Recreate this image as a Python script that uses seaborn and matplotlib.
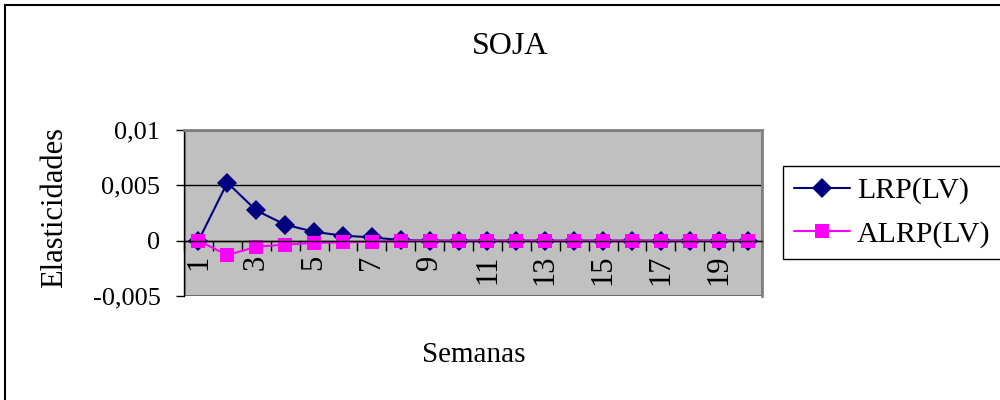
import matplotlib
matplotlib.use("Agg")
import matplotlib.pyplot as plt
import seaborn as sns
import pandas as pd
from matplotlib.patches import Rectangle
from matplotlib.ticker import FixedLocator, NullFormatter

# ---- data ----
semanas = [1, 2, 3, 4, 5, 6, 7, 8, 9, 10, 11, 12, 13, 14, 15, 16, 17, 18, 19, 20]
lrp = [0.0, 0.00524, 0.00273, 0.00145, 0.0008, 0.00045, 0.0003, 0.00005, 0.0, 0.0,
       0.0, 0.0, 0.0, 0.0, 0.0, 0.0, 0.0, 0.0, 0.0, 0.0]
alrp = [0.0, -0.0013, -0.00055, -0.00036, -0.0002, -0.00015, -0.0001, 0.0, 0.0, 0.0,
        0.0, 0.0, 0.0, 0.0, 0.0, 0.0, 0.0, 0.0, 0.0, 0.0]
series_names = ["LRP(LV)", "ALRP(LV)"]
x_tick_labels = ["1", "3", "5", "7", "9", "11", "13", "15", "17", "19"]
y_ticks = [-0.005, 0.0, 0.005, 0.01]
y_tick_labels = ["-0,005", "0", "0,005", "0,01"]
title = "SOJA"
x_label = "Semanas"
y_label = "Elasticidades"

df = pd.DataFrame({
    "Semana": semanas * 2,
    "Valor": lrp + alrp,
    "Serie": [series_names[0]] * len(semanas) + [series_names[1]] * len(semanas),
})

sns.set_style("white")
plt.rcParams["font.family"] = ["Liberation Serif", "DejaVu Serif"]
plt.rcParams["text.color"] = "black"
plt.rcParams["xtick.color"] = "black"
plt.rcParams["ytick.color"] = "black"
plt.rcParams["xtick.labelcolor"] = "black"
plt.rcParams["ytick.labelcolor"] = "black"

fig = plt.figure(figsize=(10, 4), dpi=100)
ax = fig.add_axes([0.184, 0.26, 0.578, 0.415])
ax.set_facecolor("#C0C0C0")

sns.lineplot(
    data=df, x="Semana", y="Valor", hue="Serie", style="Serie",
    palette={series_names[0]: "#000080", series_names[1]: "#FF00FF"},
    markers={series_names[0]: "D", series_names[1]: "s"},
    dashes=False, linewidth=1.5, markersize=10, markeredgewidth=0,
    ax=ax, legend=True,
)

ax.set_xlim(0.5, 20.5)
ax.set_ylim(-0.005, 0.01)

# horizontal gridlines
for yv in y_ticks:
    ax.axhline(yv, color="black", linewidth=1.0, zorder=0.5)

# spines
ax.spines["bottom"].set_position(("data", 0))
ax.spines["bottom"].set_color("black")
ax.spines["bottom"].set_linewidth(1.0)
ax.spines["left"].set_color("black")
ax.spines["left"].set_linewidth(1.0)
for s in ["top", "right"]:
    ax.spines[s].set_color("#808080")
    ax.spines[s].set_linewidth(2.0)
ax.add_patch(Rectangle((0, 0), 1, 1, transform=ax.transAxes, fill=False,
                       edgecolor="#808080", linewidth=2.0, zorder=0.4))

# x ticks: marks at category boundaries, labels on odd categories
ax.xaxis.set_major_locator(FixedLocator([i + 0.5 for i in range(0, 21)]))
ax.xaxis.set_major_formatter(NullFormatter())
ax.xaxis.set_minor_locator(FixedLocator([1, 3, 5, 7, 9, 11, 13, 15, 17, 19]))
ax.set_xticklabels(x_tick_labels, minor=True, rotation=90, fontsize=22, va="top", ha="center")
ax.tick_params(axis="x", which="major", direction="out", length=7, width=1, color="black", bottom=True)
ax.tick_params(axis="x", which="minor", length=0, pad=10, bottom=True)

ax.set_yticks(y_ticks)
ax.set_yticklabels(y_tick_labels, fontsize=19)
ax.tick_params(axis="y", direction="out", length=6, width=1, color="black", left=True, pad=11)

ax.set_xlabel("")
ax.set_ylabel("")

# legend
handles, labels = ax.get_legend_handles_labels()
ax.legend_.remove()
leg = fig.legend(handles, labels, loc="upper left", bbox_to_anchor=(0.783, 1 - 166 / 400),
                 bbox_transform=fig.transFigure, fontsize=21.5, frameon=True, fancybox=False,
                 edgecolor="black", facecolor="white", framealpha=1, handlelength=1.87,
                 borderpad=0.37, labelspacing=0.55, handletextpad=0.23, borderaxespad=0)
leg.get_frame().set_linewidth(1.0)
for t in leg.get_texts():
    t.set_color("black")

# texts
fig.text(0.51, 1 - 47 / 400, title, ha="center", va="center", fontsize=23)
fig.text(0.474, 1 - 355 / 400, x_label, ha="center", va="center", fontsize=21)
fig.text(0.055, 1 - 208 / 400, y_label, ha="center", va="center", rotation=90, fontsize=22)

# outer chart border
fig.patches.append(Rectangle((0.005, -0.2), 1.2, 1.1875, transform=fig.transFigure,
                             fill=False, edgecolor="black", linewidth=1.5))

fig.savefig("out.png", dpi=100, facecolor="white")
